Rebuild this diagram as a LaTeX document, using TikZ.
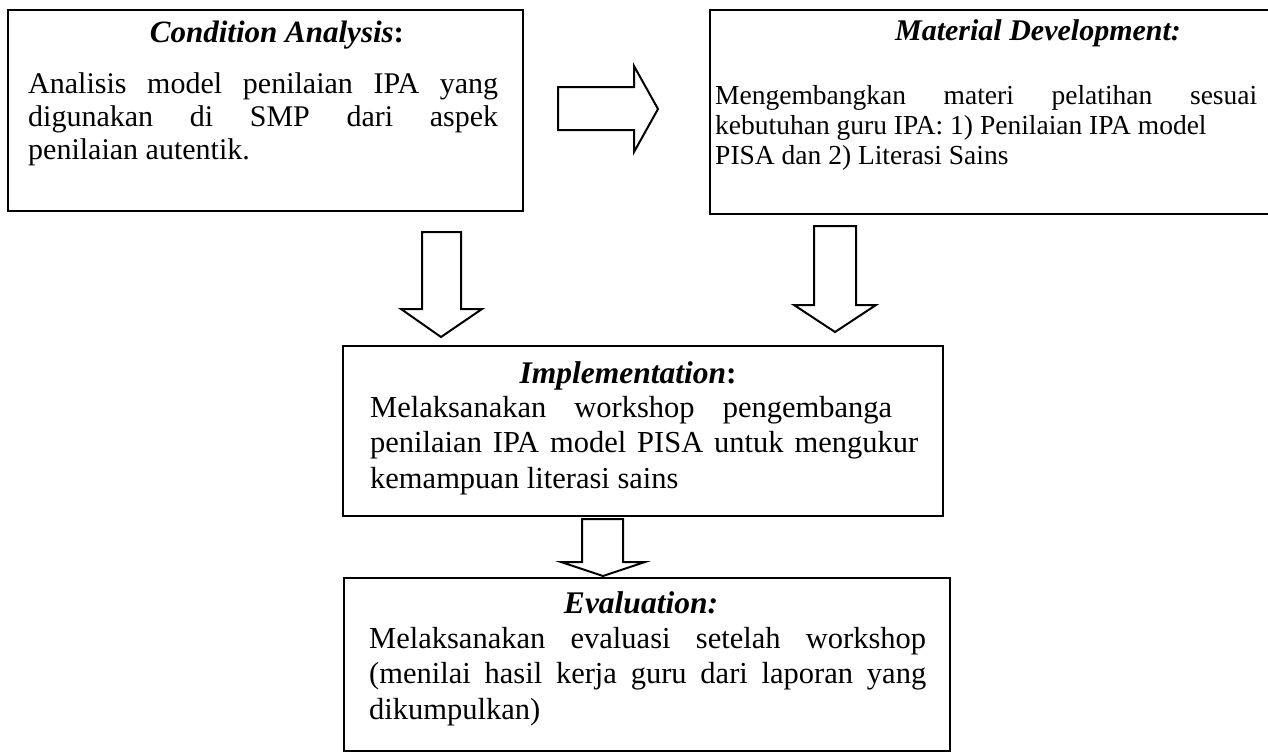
\documentclass[tikz,border=0pt]{standalone}
\usepackage{fontspec}
\setmainfont{Liberation Serif}
\tikzset{
  box/.style={draw=black, line width=2.2pt, inner sep=0pt, anchor=north west},
  blockarrow/.style={draw=black, line width=2pt, fill=white, line join=miter},
  ttl/.style={anchor=base, inner sep=0pt},
  bodytext/.style={anchor=north west, inner sep=0pt, align=left},
}
\begin{document}
\begin{tikzpicture}[x=1pt,y=-1pt]
\useasboundingbox (0,0) rectangle (1268,753);
% boxes
\node[box, minimum width=515pt, minimum height=201pt] (ca) at (7,9) {};
\node[box, minimum width=620pt, minimum height=204pt] (md) at (709,9) {};
\node[box, minimum width=600pt, minimum height=170pt] (im) at (342,345) {};
\node[box, minimum width=606pt, minimum height=173pt] (ev) at (343,577) {};
% titles
\node[ttl, font=\fontsize{31}{34}\selectfont\bfseries\itshape] (caT) at (277,42) {Condition Analysis\upshape:};
\node[ttl, font=\fontsize{30}{33}\selectfont\bfseries\itshape] (mdT) at (1038,40) {Material Development:};
\node[ttl, font=\fontsize{31.5}{35}\selectfont\bfseries\itshape] (imT) at (628,383) {Implementation\upshape:};
\node[ttl, font=\fontsize{31.5}{35}\selectfont\bfseries\itshape] (evT) at (641,613) {Evaluation:};
% bodies (first baseline = node top + 0.7*baselineskip)
\node[bodytext, font=\fontsize{30}{33}\selectfont] (caB) at (28,93-23.1) {\strut\hbox to 470pt{Analisis\hfill model\hfill penilaian\hfill IPA\hfill yang}\\
\hbox to 470pt{digunakan\hfill di\hfill SMP\hfill dari\hfill aspek}\\
penilaian autentik.};
\node[bodytext, font=\fontsize{27.5}{30}\selectfont] (mdB) at (715,104-21) {\strut\hbox to 542pt{Mengembangkan\hfill materi\hfill pelatihan\hfill sesuai}\\
kebutuhan guru IPA: 1) Penilaian IPA model\\
PISA dan 2) Literasi Sains};
\node[bodytext, font=\fontsize{30.5}{35.5}\selectfont] (imB) at (370,417-24.85) {\strut\hbox to 522pt{Melaksanakan\hfill workshop\hfill pengembanga}\\
\hbox to 548pt{penilaian\hfill IPA\hfill model\hfill PISA\hfill untuk\hfill mengukur}\\
kemampuan literasi sains};
\node[bodytext, font=\fontsize{30.5}{35.5}\selectfont] (evB) at (369,648-24.85) {\strut\hbox to 557pt{Melaksanakan\hfill evaluasi\hfill setelah\hfill workshop}\\
\hbox to 557pt{(menilai\hfill hasil\hfill kerja\hfill guru\hfill dari\hfill laporan\hfill yang}\\
dikumpulkan)};
% block arrows
\draw[blockarrow] (558,87) -- (634,87) -- (634,66) -- (658,109) -- (634,152) -- (634,130) -- (558,130) -- cycle;
\draw[blockarrow] (422,232) -- (461,232) -- (461,309) -- (482,309) -- (441,337) -- (401,309) -- (422,309) -- cycle;
\draw[blockarrow] (814,226) -- (856,226) -- (856,305) -- (876,305) -- (835,332) -- (794,305) -- (814,305) -- cycle;
\draw[blockarrow] (582,519) -- (623,519) -- (623,562) -- (645,562) -- (603,576) -- (561,562) -- (582,562) -- cycle;
\end{tikzpicture}
\end{document}
